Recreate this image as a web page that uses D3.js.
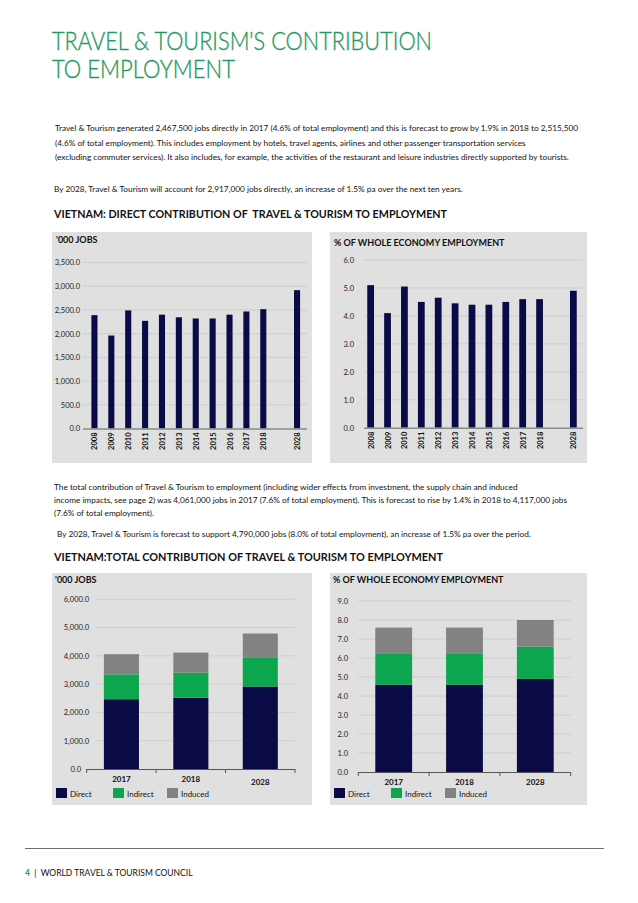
<!DOCTYPE html>
<html><head><meta charset="utf-8">
<script src="https://cdn.jsdelivr.net/npm/d3@7/dist/d3.min.js"></script>
<style>
body{margin:0;background:#fff}
text{font-family:Lato,"Open Sans",sans-serif}
</style>
</head><body>
<svg id="c" width="638" height="903"></svg>
<script>
// ---------- DATA ----------
const directYears = ["2008","2009","2010","2011","2012","2013","2014","2015","2016","2017","2018","2028"];
const directJobs  = [2390,1960,2490,2270,2400,2345,2320,2320,2400,2467.5,2515.5,2917];
const directPct   = [5.1,4.1,5.05,4.5,4.65,4.45,4.4,4.4,4.5,4.6,4.6,4.9];
const jobsTicks   = [0,500,1000,1500,2000,2500,3000,3500];
const pctTicks    = [0,1,2,3,4,5,6];

const totalYears        = ["2017","2018","2028"];
const totalDirectJobs   = [2467.5,2515.5,2917];
const totalIndirectJobs = [880,890,1010];
const totalInducedJobs  = [713.5,711.5,863];
const totalDirectPct    = [4.6,4.6,4.9];
const totalIndirectPct  = [1.65,1.65,1.7];
const totalInducedPct   = [1.35,1.35,1.4];
const totalJobsTicks    = [0,1000,2000,3000,4000,5000,6000];
const totalPctTicks     = [0,1,2,3,4,5,6,7,8,9];
const seriesNames       = ["Direct","Indirect","Induced"];

const titleLines = ["TRAVEL & TOURISM'S CONTRIBUTION","TO EMPLOYMENT"];
const para1 = [
 "Travel & Tourism generated 2,467,500 jobs directly in 2017 (4.6% of total employment) and this is forecast to grow by 1.9% in 2018 to 2,515,500",
 "(4.6% of total employment). This includes employment by hotels, travel agents, airlines and other passenger transportation services",
 "(excluding commuter services). It also includes, for example, the activities of the restaurant and leisure industries directly supported by tourists."];
const para2 = ["By 2028, Travel & Tourism will account for 2,917,000 jobs directly, an increase of 1.5% pa over the next ten years."];
const heading1 = "VIETNAM: DIRECT CONTRIBUTION OF  TRAVEL & TOURISM TO EMPLOYMENT";
const para3 = [
 "The total contribution of Travel & Tourism to employment (including wider effects from investment, the supply chain and induced",
 "income impacts, see page 2) was 4,061,000 jobs in 2017 (7.6% of total employment).  This is forecast to rise by 1.4% in 2018 to 4,117,000 jobs",
 "(7.6% of total employment)."];
const para4 = ["By 2028, Travel & Tourism is forecast to support 4,790,000 jobs (8.0% of total employment), an increase of 1.5% pa over the period."];
const heading2 = "VIETNAM:TOTAL CONTRIBUTION OF TRAVEL & TOURISM TO EMPLOYMENT";

// ---------- STYLE ----------
const GREEN_T = "#1f9a5c", NAVY = "#0a0a46", GREEN = "#0ba64e", GREY = "#828282";
const PANEL = "#e0e0e0", GRID = "#c9c9c9";
const colors = [NAVY, GREEN, GREY];

const svg = d3.select("#c");

// title
svg.selectAll(".title").data(titleLines).join("text")
  .attr("x",52).attr("y",(d,i)=>50+i*28)
  .attr("font-size",25).attr("font-weight",300).attr("fill",GREEN_T)
  .attr("stroke",GREEN_T).attr("stroke-width",0.35)
  .attr("textLength",(d,i)=>[380,183][i]).attr("lengthAdjust","spacingAndGlyphs")
  .text(d=>d);

// body text: uniform horizontal compression derived from the longest line
const bodyG = svg.append("g");
const probe = bodyG.append("text").attr("font-size",8).text(para1[0]);
const bodyFactor = 523 / probe.node().getComputedTextLength();
probe.remove();
function para(lines, x, y0, lh){
  bodyG.append("g").selectAll("text").data(lines).join("text")
    .attr("x",x).attr("y",(d,i)=>y0+i*lh)
    .attr("font-size",8).attr("fill","#111")
    .text(d=>d)
    .each(function(){
      const L = this.getComputedTextLength();
      d3.select(this).attr("textLength",L*bodyFactor).attr("lengthAdjust","spacingAndGlyphs");
    });
}
para(para1,55,131,14.5);
para(para2,54,192,14);
para(para3,54,490,13);
para(para4,57,537,13);

function heading(t,y,w){
  svg.append("text").attr("x",54).attr("y",y).attr("font-size",10.5).attr("font-weight",700)
    .attr("fill","#111").attr("textLength",w).attr("lengthAdjust","spacingAndGlyphs")
    .style("white-space","pre").text(t);
}
heading(heading1,218,393);
heading(heading2,561,389);

// ---------- DIRECT CHARTS ----------
function directChart(opts){
  const g = svg.append("g");
  g.append("rect").attr("x",opts.px).attr("y",opts.py).attr("width",opts.pw).attr("height",opts.ph).attr("fill",PANEL);
  g.append("text").attr("x",opts.px+4).attr("y",opts.py+opts.ly).attr("font-size",9).attr("font-weight",700)
    .attr("fill","#111").text(opts.label);
  const dom = directYears.slice(0,11).concat(["gap"]).concat(directYears.slice(11));
  const x = d3.scaleBand().domain(dom).range(opts.xr).paddingInner(opts.pi).paddingOuter(opts.pi/2);
  const y = d3.scaleLinear().domain(opts.yd).range(opts.yr);
  g.selectAll(".gl").data(opts.ticks.filter(t=>t>0)).join("line")
    .attr("x1",opts.gx[0]).attr("x2",opts.gx[1]).attr("y1",d=>y(d)).attr("y2",d=>y(d))
    .attr("stroke",GRID).attr("stroke-width",0.8);
  const yAxis = d3.axisLeft(y).tickValues(opts.ticks).tickFormat(opts.fmt).tickSize(0).tickPadding(0);
  const ya = g.append("g").attr("transform",`translate(${opts.lx},0)`).call(yAxis);
  ya.select(".domain").remove();
  ya.selectAll("text").attr("font-size",7.5).attr("fill","#222").attr("font-family","Lato");
  g.selectAll(".bar").data(opts.values).join("rect")
    .attr("x",(d,i)=>x(directYears[i])).attr("width",x.bandwidth())
    .attr("y",d=>y(d)).attr("height",d=>y(0)-y(d)).attr("fill",NAVY);
  g.append("line").attr("x1",opts.gx[0]).attr("x2",opts.gx[1]).attr("y1",y(0)+0.5).attr("y2",y(0)+0.5)
    .attr("stroke","#8a8a8a").attr("stroke-width",1.6);
  g.selectAll(".yl").data(directYears).join("text")
    .attr("transform",d=>`translate(${x(d)+x.bandwidth()/2+3},${y(0)+4}) rotate(-90)`)
    .attr("text-anchor","end").attr("font-size",7.5).attr("font-weight",700).attr("fill","#111")
    .text(d=>d);
}
directChart({px:52,py:232,pw:260,ph:231,label:"'000 JOBS",ly:11,xr:[86,305.5],pi:0.64,
  yd:[0,3500],yr:[428.5,262.5],ticks:jobsTicks,fmt:d3.format(",.1f"),lx:80,gx:[83,307],values:directJobs});
directChart({px:330,py:232,pw:257,ph:231,label:"% OF WHOLE ECONOMY EMPLOYMENT",ly:14,xr:[362.2,581.8],pi:0.6,
  yd:[0,6],yr:[427.7,260],ticks:pctTicks,fmt:d3.format(".1f"),lx:354,gx:[364,583],values:directPct});

// ---------- TOTAL CHARTS ----------
function totalChart(opts){
  const g = svg.append("g");
  g.append("rect").attr("x",opts.px).attr("y",opts.py).attr("width",opts.pw).attr("height",opts.ph).attr("fill",PANEL);
  g.append("text").attr("x",opts.px+3).attr("y",opts.py+10).attr("font-size",9).attr("font-weight",700)
    .attr("fill","#111").text(opts.label);
  const x = d3.scaleBand().domain(totalYears).range(opts.xr).paddingInner(opts.pi).paddingOuter(opts.pi/2);
  const y = d3.scaleLinear().domain(opts.yd).range(opts.yr);
  g.selectAll(".gl").data(opts.ticks.filter(t=>t>0)).join("line")
    .attr("x1",opts.gx[0]).attr("x2",opts.gx[1]).attr("y1",d=>y(d)).attr("y2",d=>y(d))
    .attr("stroke",GRID).attr("stroke-width",0.8);
  const yAxis = d3.axisLeft(y).tickValues(opts.ticks).tickFormat(opts.fmt).tickSize(0).tickPadding(0);
  const ya = g.append("g").attr("transform",`translate(${opts.lx},0)`).call(yAxis);
  ya.select(".domain").remove();
  ya.selectAll("text").attr("font-size",7.5).attr("fill","#222").attr("font-family","Lato")
    .attr("dx",d=>d===0? -opts.zeroShift:0);
  const rows = totalYears.map((yr,i)=>({year:yr,Direct:opts.series[0][i],Indirect:opts.series[1][i],Induced:opts.series[2][i]}));
  const stacked = d3.stack().keys(seriesNames)(rows);
  g.selectAll(".s").data(stacked).join("g").attr("fill",(d,i)=>colors[i])
    .selectAll("rect").data(d=>d).join("rect")
    .attr("x",d=>x(d.data.year)).attr("width",x.bandwidth())
    .attr("y",d=>y(d[1])).attr("height",d=>y(d[0])-y(d[1]));
  const r = x.range();
  g.append("line").attr("x1",r[0]).attr("x2",r[1]).attr("y1",y(0)+0.5).attr("y2",y(0)+0.5)
    .attr("stroke","#555").attr("stroke-width",1);
  const bounds = totalYears.map(d=>x(d)-x.step()*x.paddingInner()/2).concat([r[1]]);
  g.selectAll(".tk").data(bounds).join("line")
    .attr("x1",d=>d).attr("x2",d=>d).attr("y1",y(0)).attr("y2",y(0)+4)
    .attr("stroke","#555").attr("stroke-width",1);
  g.selectAll(".yl").data(totalYears).join("text")
    .attr("x",d=>x(d)+x.bandwidth()/2).attr("y",(d,i)=>y(0)+13+(i===2? opts.lastDy:0))
    .attr("text-anchor","middle").attr("font-size",8).attr("font-weight",700).attr("fill","#111")
    .text(d=>d);
  const lg = g.selectAll(".lg").data(seriesNames).join("g")
    .attr("transform",(d,i)=>`translate(${opts.px+4+[0,57,111][i]},${opts.py+215})`);
  lg.append("rect").attr("width",11).attr("height",10).attr("fill",(d,i)=>colors[i]);
  lg.append("text").attr("x",14).attr("y",8.5).attr("font-size",8).attr("fill","#111").text(d=>d);
}
totalChart({px:52,py:573,pw:260,ph:232,label:"'000 JOBS",xr:[86.7,295],pi:0.495,
  yd:[0,6000],yr:[769,599.3],ticks:totalJobsTicks,fmt:d3.format(",.1f"),lx:89,gx:[96,295],zeroShift:8,lastDy:3,
  series:[totalDirectJobs,totalIndirectJobs,totalInducedJobs]});
totalChart({px:330,py:573,pw:257,ph:232,label:"% OF WHOLE ECONOMY EMPLOYMENT",xr:[358.3,570.7],pi:0.48,
  yd:[0,9],yr:[772,601],ticks:totalPctTicks,fmt:d3.format(".1f"),lx:348,gx:[358,571],zeroShift:0,lastDy:0,
  series:[totalDirectPct,totalIndirectPct,totalInducedPct]});

// ---------- FOOTER ----------
svg.append("line").attr("x1",25).attr("x2",604).attr("y1",848.5).attr("y2",848.5).attr("stroke","#6e6e6e").attr("stroke-width",1);
const ft = svg.append("text").attr("x",25).attr("y",876).attr("font-size",8.5).attr("fill","#111").style("white-space","pre");
ft.append("tspan").attr("fill",GREEN_T).attr("font-weight",700).text("4");
ft.append("tspan").text("  |  WORLD TRAVEL & TOURISM COUNCIL");
</script>
</body></html>
